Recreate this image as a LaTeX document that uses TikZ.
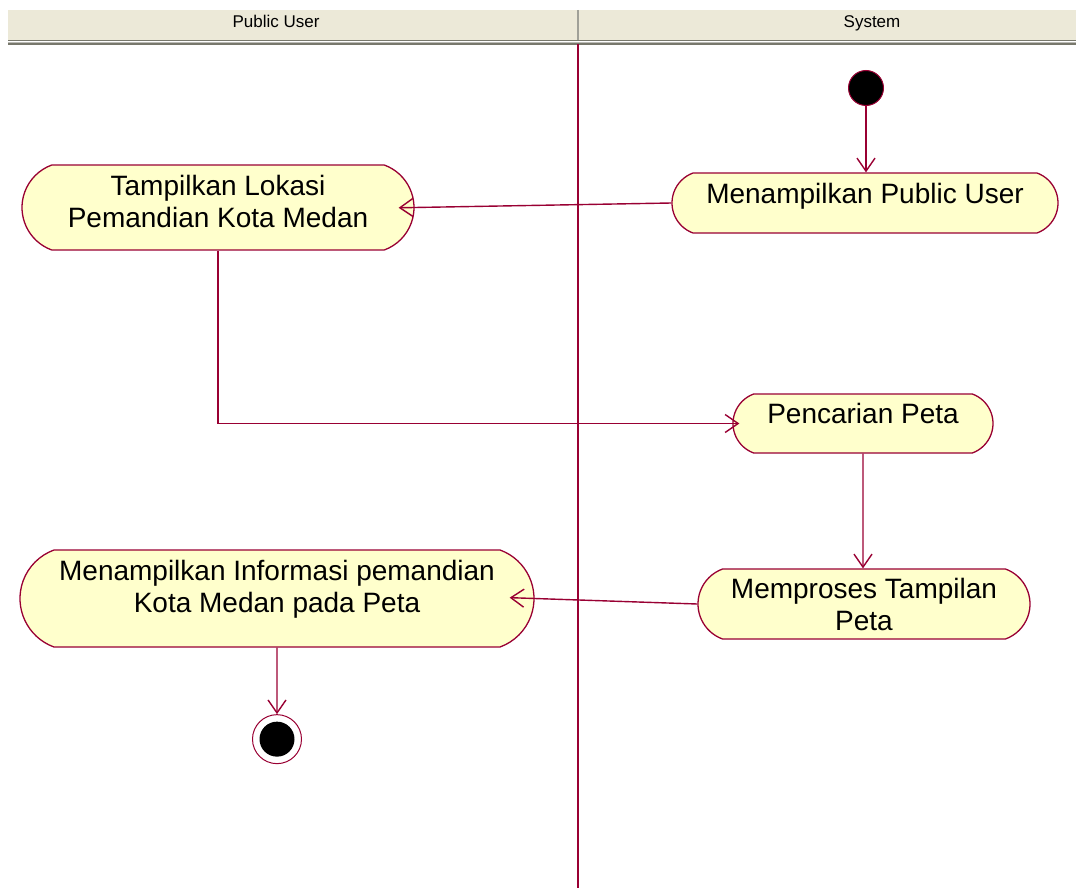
\documentclass[tikz,border=0pt]{standalone}
\usepackage{fontspec}
\setmainfont{Liberation Sans}
\usetikzlibrary{positioning,arrows.meta,shapes.misc}
\definecolor{umlred}{RGB}{153,0,51}
\definecolor{umlfill}{RGB}{255,255,204}
\definecolor{headfill}{RGB}{236,233,216}
\definecolor{headline}{RGB}{120,120,108}
\tikzset{
    every node/.style={font=\fontsize{28}{32}\selectfont},
    activity/.style={rounded rectangle, rounded rectangle arc length=140, draw=umlred, fill=umlfill,
                     line width=1.3pt, align=center, inner xsep=0pt, inner ysep=0pt},
    startdot/.style={circle, draw=umlred, fill=black, minimum size=35pt, inner sep=0pt, line width=1pt},
    enddot/.style={circle, draw=umlred, fill=white, minimum size=49pt, inner sep=0pt, line width=1pt,
                   path picture={\fill[black] (path picture bounding box.center) circle (17.5pt);}},
    lanehead/.style={font=\fontsize{17}{20}\selectfont, anchor=base},
    arrow/.style={-{Straight Barb[length=13pt,width=18pt]}, draw=umlred, line width=1.4pt},
}

\begin{document}
\begin{tikzpicture}[x=1pt,y=-1pt]
\useasboundingbox (0,0) rectangle (1076,888);

%=========================
% Swimlane header
%=========================
\fill[headfill] (8,10) rectangle (1076,40);
\draw[headline, line width=1.5pt] (8,40.5) -- (1076,40.5);
\draw[headline!50, line width=1pt] (8,42.5) -- (1076,42.5);
\draw[headline, line width=1.2pt] (8,44) -- (1076,44);
\draw[headline!70, line width=1.5pt] (578,10) -- (578,40);
\node[lanehead] (lane1) at (276,28) {Public User};
\node[lanehead] (lane2) at (872,28) {System};
\draw[umlred, line width=1.4pt] (578,44) -- (578,888);

% activities
\node[startdot] (start) at (866,88) {};
\node[activity, minimum width=386pt, minimum height=60pt, text height=21pt, text depth=21pt] (mpu) at (865,203) {Menampilkan Public User};
\node[activity, minimum width=392pt, minimum height=85pt, text height=53pt, text depth=14pt] (tlk) at (218,207.5) {Tampilkan Lokasi\\Pemandian Kota Medan};
\node[activity, minimum width=260pt, minimum height=59pt, text height=21pt, text depth=21pt] (cari) at (863,423.5) {Pencarian Peta};
\node[activity, minimum width=332pt, minimum height=70pt, text height=58pt, text depth=6pt] (proses) at (864,604) {Memproses Tampilan\\Peta};
\node[activity, minimum width=514pt, minimum height=97pt, text height=53pt, text depth=26pt] (info) at (277,598.5) {Menampilkan Informasi pemandian\\Kota Medan pada Peta};
\node[enddot, below=66.5pt of info] (finish) {};

% transitions
\draw[arrow] (start) -- (start |- mpu.north);
\draw[arrow, shorten >=-16pt] (mpu.west) -- (tlk.east);
\draw[arrow, shorten >=-7pt] (tlk.south) |- (cari.west);
\draw[arrow] (cari) -- (cari |- proses.north);
\draw[arrow, shorten >=-25pt] (proses.west) -- (info.east);
\draw[arrow] (info) -- (finish);

\end{tikzpicture}
\end{document}
